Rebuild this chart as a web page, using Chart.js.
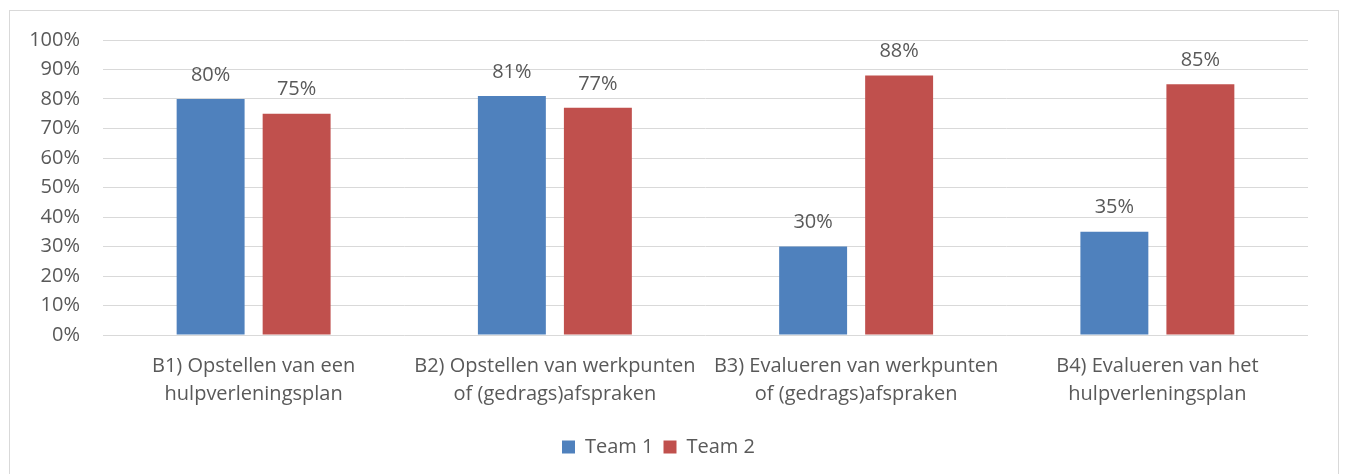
<!DOCTYPE html>
<html>
<head>
<meta charset="utf-8">
<script src="https://cdn.jsdelivr.net/npm/chart.js@4"></script>
<style>
  html, body { margin: 0; padding: 0; background: #fff; }
  #wrap { width: 1345px; height: 474px; position: relative; }
</style>
</head>
<body>
<div id="wrap"><canvas id="barchart"></canvas></div>
<script>
const categories = [
  ["B1) Opstellen van een", "hulpverleningsplan"],
  ["B2) Opstellen van werkpunten", "of (gedrags)afspraken"],
  ["B3) Evalueren van werkpunten", "of (gedrags)afspraken"],
  ["B4) Evalueren van het", "hulpverleningsplan"]
];
const team1 = [80, 81, 30, 35];
const team2 = [75, 77, 88, 85];
const seriesNames = ["Team 1", "Team 2"];

const textColor = "#595959";
const fontFamily = "'Open Sans', Lato, sans-serif";
const fontSize = 20;

// percentage labels above the bars
const barLabels = {
  id: 'barLabels',
  afterDatasetsDraw(chart) {
    const c = chart.ctx;
    c.save();
    c.fillStyle = textColor;
    c.font = fontSize + "px " + fontFamily;
    c.textAlign = "center";
    c.textBaseline = "middle";
    chart.data.datasets.forEach((ds, i) => {
      chart.getDatasetMeta(i).data.forEach((bar, j) => {
        c.fillText(ds.data[j] + "%", bar.x, bar.y - 24);
      });
    });
    c.restore();
  }
};

// light frame round the chart
const frame = {
  id: 'frame',
  beforeDraw(chart) {
    const c = chart.ctx;
    c.save();
    c.strokeStyle = "#d9d9d9";
    c.lineWidth = 1;
    c.strokeRect(9.5, 10.5, 1329, 470);
    c.restore();
  }
};

const ctx = document.getElementById('barchart');

new Chart(ctx, {
  type: 'bar',
  data: {
    labels: categories,
    datasets: [{
      label: seriesNames[0],
      data: team1,
      backgroundColor: "#4f81bd",
      categoryPercentage: 0.571,
      barPercentage: 0.79,
    }, {
      label: seriesNames[1],
      data: team2,
      backgroundColor: "#c0504d",
      categoryPercentage: 0.571,
      barPercentage: 0.79,
    }]
  },
  options: {
    responsive: true,
    maintainAspectRatio: false,
    animation: false,
    layout: {
      padding: { top: 40, right: 37, bottom: 7, left: 9 }
    },
    plugins: {
      tooltip: { enabled: false },
      legend: {
        display: true,
        position: 'bottom',
        labels: {
          color: textColor,
          font: { size: fontSize, family: fontFamily },
          boxWidth: 13,
          boxHeight: 13,
          padding: 10,
        }
      }
    },
    scales: {
      x: {
        grid: { display: false, drawTicks: false },
        border: { display: false },
        ticks: {
          color: textColor,
          font: { size: fontSize, family: fontFamily, lineHeight: 1.4 },
          autoSkip: false,
          maxRotation: 0,
          padding: 17,
        },
        afterFit(scale) { scale.height = 92; }
      },
      y: {
        min: 0,
        max: 100,
        grid: { color: "#d9d9d9", lineWidth: 1, drawTicks: false },
        border: { display: false },
        ticks: {
          stepSize: 10,
          color: textColor,
          font: { size: fontSize, family: fontFamily },
          padding: 23,
          callback: v => v + "%",
        },
        afterFit(scale) { scale.width = 94; }
      }
    }
  },
  plugins: [barLabels, frame]
});
</script>
</body>
</html>
